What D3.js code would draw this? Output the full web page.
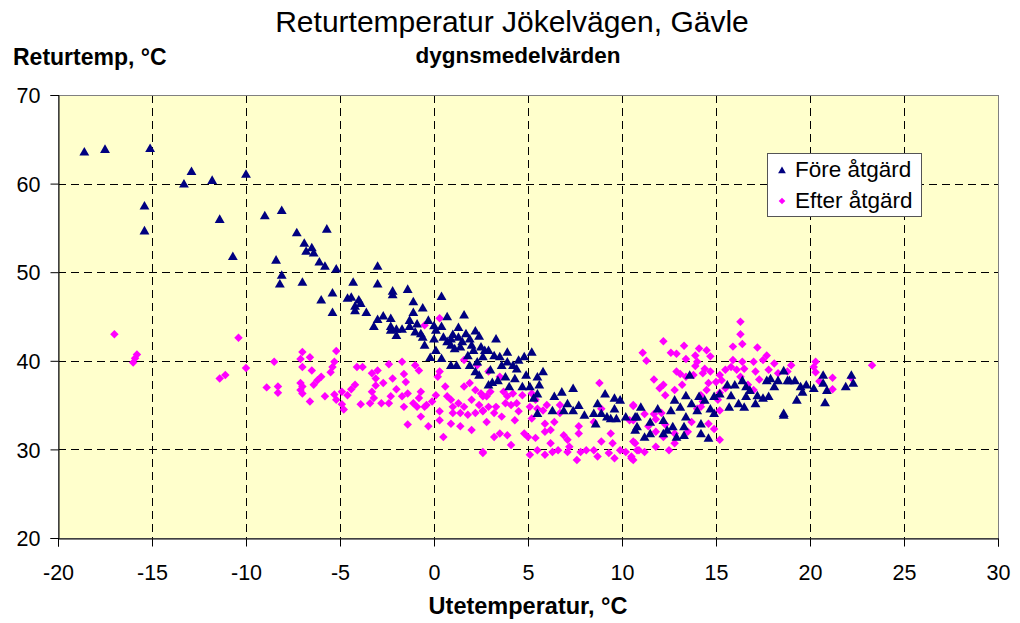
<!DOCTYPE html>
<html><head><meta charset="utf-8">
<script src="https://cdn.jsdelivr.net/npm/d3@7"></script>
<style>body{margin:0;background:#fff;}svg{display:block;font-family:"Liberation Sans",Arial,sans-serif;}</style>
</head><body><svg id="c" width="1020" height="623"></svg>
<script>
const xTicks = [-20,-15,-10,-5,0,5,10,15,20,25,30];
const yTicks = [20,30,40,50,60,70];
const seriesNames = ["Före åtgärd","Efter åtgärd"];
const fore = [
[-18.6,63.6],[-17.5,63.9],[-15.1,64.0],[-12.9,61.4],[-13.3,60.0],[-11.8,60.4],[-10.0,61.1],[-15.4,57.5],[-15.4,54.7],[-11.4,56.0],
[-9.0,56.4],[-8.1,57.0],[-7.3,54.5],[-10.7,51.8],[-8.4,51.4],[-8.1,49.7],[-8.2,48.7],[-5.7,54.9],[-6.9,53.3],[-6.5,52.8],
[-6.8,52.4],[-6.4,52.2],[-6.1,51.2],[-5.8,50.7],[-5.2,50.4],[-3.0,50.7],[-7.0,48.9],[-4.3,48.9],[-3.0,48.7],[-5.4,47.7],
[-6.0,46.9],[-5.4,45.5],[-4.4,47.2],[-4.6,47.1],[-4.0,46.9],[-4.2,46.2],[-3.9,46.5],[-4.2,45.7],[-3.6,45.5],[-2.2,47.9],
[-2.2,47.5],[-1.4,48.1],[-1.1,46.7],[-1.1,45.5],[-0.6,46.0],[0.4,47.3],[1.6,45.2],[-3.0,44.7],[-2.7,45.1],[-3.2,43.9],
[-2.3,44.8],[-2.3,43.9],[-2.3,43.5],[-2.0,43.6],[-1.7,43.6],[-2.0,42.9],[-1.3,44.6],[-1.3,43.9],[-0.9,44.2],[-1.0,43.3],
[-0.7,43.1],[-0.6,42.7],[-0.5,41.8],[-0.3,44.6],[0.0,44.0],[0.1,43.5],[0.4,43.9],[0.7,45.0],[0.0,42.5],[0.1,41.2],
[-0.2,40.4],[0.4,40.3],[0.5,42.7],[0.7,42.2],[0.9,42.5],[0.9,41.8],[1.1,41.4],[0.9,39.5],[1.2,39.5],[1.3,42.7],
[1.5,42.2],[1.4,41.6],[1.7,43.1],[1.9,42.5],[2.0,41.8],[2.1,41.2],[1.9,39.5],[2.2,38.8],[2.4,38.4],[2.5,41.6],
[2.6,40.5],[2.9,41.2],[2.9,37.3],[2.3,39.9],[3.3,42.5],[2.7,41.2],[3.2,40.6],[3.5,40.5],[3.9,41.0],[3.6,39.5],
[4.2,39.5],[4.5,40.1],[4.8,40.5],[5.2,41.0],[4.4,39.1],[3.1,37.6],[3.4,37.8],[3.8,38.2],[4.3,38.0],[4.9,38.4],
[5.5,38.2],[5.8,38.8],[4.0,37.1],[4.7,37.1],[5.1,37.1],[5.6,37.3],[5.5,36.3],[5.3,35.8],[5.5,34.1],[6.4,36.0],
[6.8,36.5],[7.4,36.9],[7.1,35.2],[7.7,35.0],[6.3,34.4],[6.9,34.4],[7.4,34.4],[8.0,33.9],[9.1,36.3],[8.7,35.2],
[8.5,34.1],[8.9,34.1],[9.2,33.7],[9.6,35.8],[9.9,35.6],[9.6,34.6],[9.4,33.5],[9.7,33.5],[8.6,32.9],[10.2,33.7],
[10.7,33.7],[10.8,32.6],[11.0,34.8],[10.8,33.7],[10.7,32.2],[11.2,31.4],[11.9,34.6],[11.5,33.1],[12.2,33.3],[12.6,34.4],
[12.8,35.6],[12.7,32.6],[13.1,34.8],[13.4,36.1],[13.6,38.4],[13.4,33.7],[13.3,31.6],[13.7,35.2],[14.0,34.4],[14.1,36.0],
[14.2,31.8],[14.4,35.6],[14.6,31.3],[14.7,34.6],[14.9,36.0],[15.2,36.3],[15.6,37.3],[15.8,36.1],[16.0,37.3],[16.2,35.2],
[16.4,37.8],[16.6,36.0],[16.8,36.7],[17.1,35.2],[17.2,36.1],[17.5,35.8],[17.8,36.0],[17.7,37.8],[17.9,38.0],[18.1,37.1],
[18.3,37.8],[18.6,38.9],[18.8,37.8],[18.6,33.9],[12.2,31.8],[11.5,31.8],[12.9,31.4],[12.4,32.2],[13.3,32.6],[14.2,32.9],
[14.9,34.1],[15.7,34.8],[16.5,34.8],[16.6,37.1],[18.9,37.8],[19.2,37.8],[19.3,35.6],[19.5,37.1],[19.6,36.5],[19.8,37.3],
[18.6,34.1],[20.2,36.9],[20.7,38.4],[20.7,37.5],[20.9,36.7],[20.8,35.3],[21.9,37.1],[22.2,38.4],[22.3,37.5],
[1.0,43.0],[1.3,43.8],[2.2,43.4],[2.4,42.8],[1.8,40.6],[3.0,39.0],[3.9,39.9]
];
const efter = [
[-17.0,43.0],[-15.8,40.7],[-15.9,40.3],[-16.0,39.8],[-10.4,42.6],[-11.1,38.4],[-11.4,38.0],[-10.0,39.2],[-8.5,39.9],[-8.9,37.0],
[-8.3,37.1],[-8.3,36.4],[-7.0,41.0],[-7.1,40.2],[-6.6,40.4],[-7.0,39.3],[-6.5,38.9],[-5.2,41.1],[-5.3,39.9],[-5.4,39.3],
[-5.5,38.7],[-6.0,38.2],[-6.2,37.8],[-7.1,37.5],[-7.0,37.1],[-6.4,37.3],[-7.1,36.7],[-7.0,36.3],[-6.6,35.4],[-5.8,36.0],
[-5.3,36.2],[-5.2,35.6],[-4.9,36.5],[-4.9,35.1],[-4.8,34.5],[-4.6,36.1],[-4.4,36.8],[-4.2,37.3],[-4.1,39.3],[-3.8,39.3],
[-3.9,35.1],[-3.4,35.2],[-3.2,35.8],[-3.3,36.5],[-3.1,37.2],[-3.3,38.6],[-3.1,38.0],[-3.0,38.9],[-2.8,35.2],[-2.7,37.5],
[-2.4,39.6],[-2.3,36.0],[-2.4,35.2],[-2.2,38.0],[-2.0,36.8],[-1.7,39.9],[-1.6,38.5],[-1.5,37.6],[-1.7,36.0],[-1.6,34.8],
[-1.4,36.3],[-1.4,32.8],[-1.1,35.2],[-1.0,39.5],[-0.8,38.9],[-0.9,34.8],[-0.7,33.7],[-0.7,36.5],[-0.8,35.8],[-0.5,34.8],
[-0.3,32.6],[-0.4,35.0],[-0.1,35.4],[0.1,36.1],[0.2,38.2],[0.3,38.8],[0.3,34.3],[0.3,33.3],[0.3,44.8],[-0.5,44.0],
[0.5,31.4],[0.6,37.1],[0.7,36.0],[0.9,35.6],[0.9,32.9],[1.0,34.8],[1.0,34.1],[1.3,35.2],[1.4,34.1],[1.4,32.6],
[1.6,37.1],[1.6,40.1],[1.6,34.8],[1.8,33.9],[1.9,37.5],[2.0,35.6],[2.0,32.2],[2.2,36.7],[2.2,34.1],[2.3,39.5],
[2.4,35.0],[2.5,36.3],[2.6,34.3],[2.6,29.6],[2.8,36.0],[2.9,34.8],[2.9,38.8],[3.5,38.2],[2.6,36.0],[3.0,36.5],
[2.6,34.4],[2.8,33.1],[3.2,34.1],[3.3,34.8],[3.7,36.5],[3.8,35.2],[3.9,36.0],[3.6,33.7],[4.1,35.0],[4.2,36.3],
[4.4,35.2],[4.5,34.3],[4.3,33.3],[4.7,36.1],[5.1,34.8],[5.2,33.5],[5.2,36.3],[5.4,35.6],[5.5,34.6],[5.8,34.4],
[6.0,35.0],[5.9,32.9],[6.4,33.1],[6.7,35.0],[6.7,34.1],[5.9,32.0],[6.2,32.2],[3.2,31.4],[3.5,31.8],[3.9,31.6],
[4.1,30.5],[4.8,31.8],[5.0,31.4],[5.4,31.3],[2.6,29.7],[5.1,29.4],[5.5,29.9],[5.9,29.4],[6.2,30.7],[6.3,29.7],
[6.6,29.9],[6.9,31.6],[7.1,31.1],[7.2,30.3],[7.1,29.7],[7.7,32.6],[7.7,31.8],[7.6,28.8],[7.8,29.7],[8.1,29.9],
[8.5,29.9],[8.7,29.2],[8.9,30.9],[8.8,37.5],[8.9,34.6],[8.5,33.1],[9.3,29.6],[9.4,31.8],[9.5,30.7],[9.6,29.0],
[9.9,29.9],[10.2,29.7],[10.5,29.2],[10.6,35.0],[10.4,33.3],[10.7,30.7],[10.8,29.9],[10.6,28.8],
[16.3,44.4],[16.3,43.0],[16.4,41.9],[15.9,41.6],[17.2,41.5],[12.2,42.2],[13.3,41.7],[14.1,41.4],[11.1,40.9],[11.3,40.0],
[12.6,40.9],[12.9,40.8],[13.4,40.2],[13.9,40.6],[14.0,39.9],[14.5,41.2],[14.7,40.5],[13.9,39.4],[14.4,39.1],[12.9,38.8],
[13.1,38.5],[13.4,38.2],[13.8,38.4],[14.3,38.6],[14.7,38.8],[11.7,37.9],[12.2,37.3],[12.0,36.9],[12.3,36.1],[12.8,36.7],
[13.2,37.3],[14.6,37.5],[14.5,36.7],[14.2,36.1],[15.2,38.4],[15.3,37.8],[15.5,36.9],[15.2,36.4],[15.5,39.0],[15.8,39.3],
[15.9,40.1],[16.1,39.0],[16.3,38.2],[16.4,39.9],[16.5,39.1],[16.7,37.3],[17.0,39.9],[17.0,36.7],[17.1,38.8],[17.3,37.9],
[17.5,40.1],[17.7,40.6],[17.8,39.0],[18.1,39.7],[18.3,38.6],[14.3,35.4],[14.0,34.6],[14.2,34.8],[15.1,35.6],[15.2,34.4],
[14.6,32.9],[14.9,32.3],[15.2,31.1],[10.6,34.9],[10.6,33.3],[11.2,34.0],[11.7,34.0],[11.8,33.4],[12.1,34.1],[11.4,32.6],
[11.8,32.0],[12.2,31.4],[12.8,30.7],[12.5,29.9],[11.8,30.3],[12.3,32.8],[12.8,31.8],[13.5,32.0],[13.7,33.1],[10.6,30.9],
[10.9,29.9],[10.5,29.0],[11.2,29.7],[15.0,37.6],[19.0,39.5],[18.8,38.8],[20.3,39.9],[20.2,39.3],[20.3,38.7],[20.5,37.7],
[21.2,38.1],[21.2,36.8],[22.2,38.1],[23.3,39.5]
];

const svg = d3.select("#c");
const L=58, R=998, T=95, B=538;
const x = d3.scaleLinear().domain([-20,30]).range([L,R]);
const y = d3.scaleLinear().domain([20,70]).range([B,T]);
const FONT = "Liberation Sans, Arial, sans-serif";

svg.append("rect").attr("x",L).attr("y",T).attr("width",R-L).attr("height",B-T).attr("fill","#FFFFCC");

const grid = svg.append("g").attr("stroke","#000").attr("stroke-width",1).attr("stroke-dasharray","8,5");
xTicks.slice(1,-1).forEach(t=>grid.append("line").attr("x1",Math.round(x(t))+0.5).attr("x2",Math.round(x(t))+0.5).attr("y1",T).attr("y2",B));
yTicks.slice(1,-1).forEach(t=>grid.append("line").attr("x1",L).attr("x2",R).attr("y1",Math.round(y(t))+0.5).attr("y2",Math.round(y(t))+0.5));

svg.append("rect").attr("x",L+0.5).attr("y",T+0.5).attr("width",R-L).attr("height",B-T).attr("fill","none").attr("stroke","#808080");

const xAxis = svg.append("g").attr("transform",`translate(0,${B+0.5})`)
  .call(d3.axisBottom(x).tickValues(xTicks).tickSize(8).tickFormat(d=>String(d)));
const yAxis = svg.append("g").attr("transform",`translate(${L+0.5},0)`)
  .call(d3.axisLeft(y).tickValues(yTicks).tickSize(8).tickFormat(d=>String(d)));
[xAxis,yAxis].forEach(a=>{
  a.select(".domain").attr("stroke","#000");
  a.selectAll(".tick line").attr("stroke","#000");
  a.selectAll("text").attr("font-size",21.5).attr("fill","#000").attr("font-family",FONT);
});
xAxis.selectAll("text").attr("y",41).attr("dy",0);
yAxis.selectAll("text").attr("x",-18).attr("dy","0.36em");

const tri = d3.symbol().type(d3.symbolTriangle).size(42);
const dia = d3.symbol().type(d3.symbolSquare).size(36);

svg.append("g").selectAll("path").data(efter).join("path")
  .attr("d",dia).attr("fill","#FF00FF")
  .attr("transform",d=>`translate(${x(d[0])},${y(d[1])}) rotate(45)`);
svg.append("g").selectAll("path").data(fore).join("path")
  .attr("d",tri).attr("fill","#000080")
  .attr("transform",d=>`translate(${x(d[0])},${y(d[1])+1})`);

svg.append("text").attr("x",512).attr("y",32).attr("text-anchor","middle").attr("font-size",30).text("Returtemperatur Jökelvägen, Gävle");
svg.append("text").attr("x",518).attr("y",63).attr("text-anchor","middle").attr("font-size",22.5).attr("font-weight","bold").text("dygnsmedelvärden");
svg.append("text").attr("x",13).attr("y",65).attr("font-size",23).attr("font-weight","bold").text("Returtemp, °C");
svg.append("text").attr("x",528).attr("y",614).attr("text-anchor","middle").attr("font-size",23.5).attr("font-weight","bold").text("Utetemperatur, °C");

const lg = svg.append("g");
lg.append("rect").attr("x",767.5).attr("y",153.5).attr("width",154).attr("height",63).attr("fill","#fff").attr("stroke","#555");
lg.append("path").attr("d",d3.symbol().type(d3.symbolTriangle).size(26)).attr("fill","#000080").attr("transform","translate(782,171)");
lg.append("path").attr("d",d3.symbol().type(d3.symbolSquare).size(22)).attr("fill","#FF00FF").attr("transform","translate(782,201) rotate(45)");
lg.append("text").attr("x",795).attr("y",177).attr("font-size",22.5).text(seriesNames[0]);
lg.append("text").attr("x",795).attr("y",208).attr("font-size",22.5).text(seriesNames[1]);
</script></body></html>
